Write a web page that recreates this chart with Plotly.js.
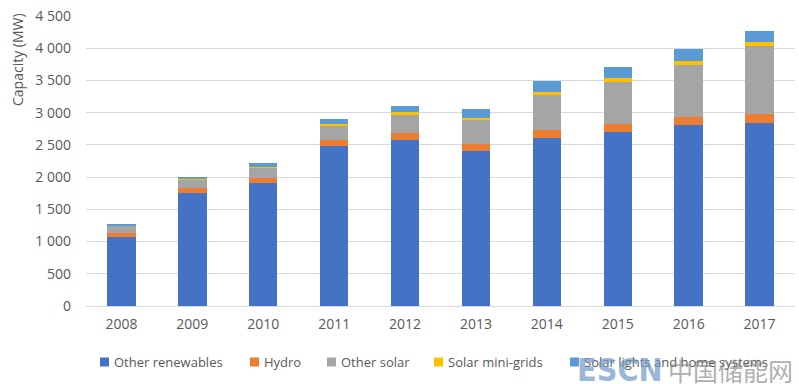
<!DOCTYPE html>
<html>
<head>
<meta charset="utf-8">
<script src="https://cdn.plot.ly/plotly-3.0.1.min.js"></script>
<style>html,body{margin:0;padding:0;background:#fff;}#chart{width:799px;height:384px;}</style>
</head>
<body>
<div id="chart"></div>
<script>
const years = ['2008','2009','2010','2011','2012','2013','2014','2015','2016','2017'];
const otherRenewables = [1065, 1750, 1915, 2490, 2580, 2400, 2610, 2705, 2805, 2835];
const hydro = [70, 78, 76, 88, 110, 115, 120, 120, 125, 140];
const otherSolar = [100, 130, 145, 220, 275, 370, 545, 655, 810, 1065];
const solarMiniGrids = [12, 15, 22, 30, 45, 30, 50, 52, 62, 57];
const solarLightsHome = [28, 30, 57, 77, 95, 145, 165, 183, 183, 168];
const yTicks = [0, 500, 1000, 1500, 2000, 2500, 3000, 3500, 4000, 4500];
const seriesNames = ['Other renewables', 'Hydro', 'Other solar', 'Solar mini-grids', 'Solar lights and home systems'];
const seriesColors = ['#4472C4', '#ED7D31', '#A5A5A5', '#FFC000', '#5B9BD5'];
const seriesValues = [otherRenewables, hydro, otherSolar, solarMiniGrids, solarLightsHome];

const traces = seriesNames.map((n, i) => ({
  type: 'bar', x: years, y: seriesValues[i], name: n,
  marker: {color: seriesColors[i], line: {width: 0}}
}));

// custom legend (pixel positions converted to paper coords)
const W = 799, H = 384, L = 86, R = 4, T = 16, B = 78;
const pw = W - L - R, ph = H - T - B;
const px = x => (x - L) / pw;
const py = y => (H - B - y) / ph;
const legendX = [100, 250, 327, 434, 570];
const legendY = 362;
const shapes = [], annotations = [];
seriesNames.forEach((n, i) => {
  shapes.push({type: 'rect', xref: 'paper', yref: 'paper',
    x0: px(legendX[i]), x1: px(legendX[i] + 9), y0: py(legendY + 4.5), y1: py(legendY - 4.5),
    fillcolor: seriesColors[i], line: {width: 0}});
  annotations.push({text: n, xref: 'paper', yref: 'paper', x: px(legendX[i] + 12), y: py(legendY),
    xanchor: 'left', yanchor: 'middle', showarrow: false,
    font: {size: 13, color: '#595959'}});
});

annotations.push(
  {text: 'Capacity (MW)', textangle: -90, xref: 'paper', yref: 'paper',
   x: px(18), y: py(60), xanchor: 'center', yanchor: 'middle', showarrow: false,
   font: {size: 14, color: '#595959'}},
  {text: '<b>ESCN</b>', xref: 'paper', yref: 'paper', x: px(665), y: py(370),
   xanchor: 'right', yanchor: 'middle', showarrow: false,
   font: {size: 32, color: 'rgba(110,150,200,0.7)', family: 'DejaVu Sans Condensed, DejaVu Sans, sans-serif'}},
  {text: '中国储能网', xref: 'paper', yref: 'paper', x: 1.0, y: py(370),
   xanchor: 'right', yanchor: 'middle', showarrow: false,
   font: {size: 25, color: 'rgba(130,130,130,0.65)', family: 'Noto Sans CJK SC, sans-serif'}}
);

const layout = {
  width: W, height: H,
  margin: {l: L, r: R, t: T, b: B},
  barmode: 'stack', bargap: 0.6,
  separators: '. ',
  paper_bgcolor: '#fff', plot_bgcolor: '#fff',
  font: {family: 'Open Sans, Noto Sans, sans-serif', size: 13, color: '#595959'},
  xaxis: {type: 'category', showgrid: false, zeroline: false, showline: false,
          ticks: '', ticklabelstandoff: 8, tickfont: {size: 14, color: '#595959'}, automargin: false},
  yaxis: {range: [0, 4500], tickvals: yTicks, tickformat: ',d', showgrid: true,
          gridcolor: '#D9D9D9', gridwidth: 1, zeroline: true, zerolinecolor: '#D9D9D9',
          showline: false, ticks: '', ticklabelstandoff: 14, automargin: false,
          tickfont: {size: 14, color: '#595959'}},
  showlegend: false,
  shapes: shapes,
  annotations: annotations
};
Plotly.newPlot('chart', traces, layout, {displayModeBar: false, staticPlot: true});
</script>
</body>
</html>
